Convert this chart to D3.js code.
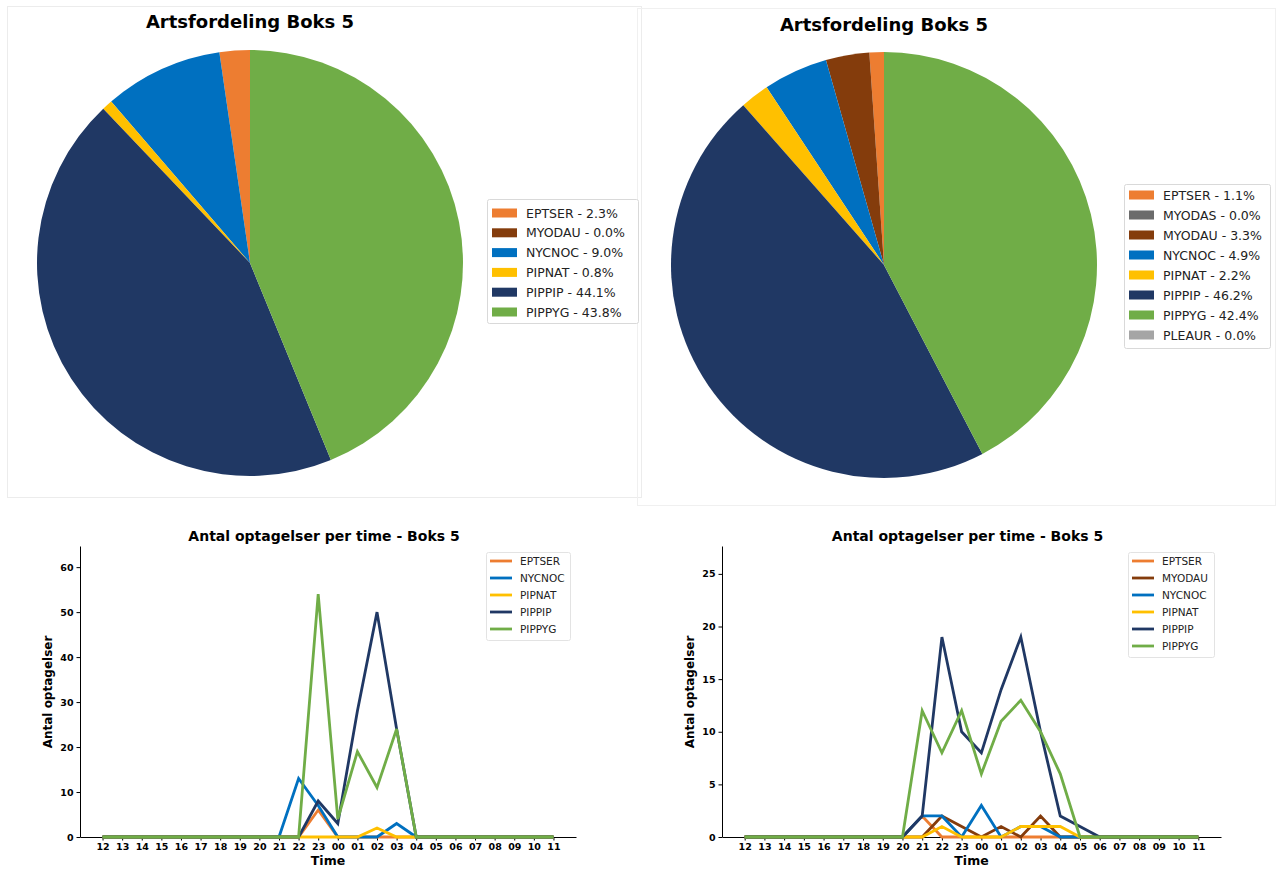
<!DOCTYPE html>
<html>
<head>
<meta charset="utf-8">
<script src="https://cdn.jsdelivr.net/npm/d3@7"></script>
<style>
  body { margin: 0; background: #fff; }
  svg { display: block; }
  text { font-family: "DejaVu Sans", sans-serif; }
</style>
</head>
<body>
<svg id="chart" width="1277" height="870"></svg>
<script>
// ---- data ----
var speciesColors = {
  EPTSER: "#ED7D31", MYODAS: "#6B6B6B", MYODAU: "#843C0C", NYCNOC: "#0070C0",
  PIPNAT: "#FFC000", PIPPIP: "#203864", PIPPYG: "#70AD47", PLEAUR: "#A5A5A5"
};

// pie charts (percent of recordings)
var pieLeftSpecies = ["EPTSER", "MYODAU", "NYCNOC", "PIPNAT", "PIPPIP", "PIPPYG"];
var pieLeftValues = [2.3, 0.0, 9.0, 0.8, 44.1, 43.8];

var pieRightSpecies = ["EPTSER", "MYODAS", "MYODAU", "NYCNOC", "PIPNAT", "PIPPIP", "PIPPYG", "PLEAUR"];
var pieRightValues = [1.1, 0.0, 3.3, 4.9, 2.2, 46.2, 42.4, 0.0];

// hourly counts
var hourLabels = ["12","13","14","15","16","17","18","19","20","21","22","23",
                  "00","01","02","03","04","05","06","07","08","09","10","11"];

var lineLeftSpecies = ["EPTSER", "NYCNOC", "PIPNAT", "PIPPIP", "PIPPYG"];
var leftEPTSER = [0,0,0,0,0,0,0,0,0,0,0,6, 0,0,0,0,0,0,0,0,0,0,0,0];
var leftNYCNOC = [0,0,0,0,0,0,0,0,0,0,13,7, 0,0,0,3,0,0,0,0,0,0,0,0];
var leftPIPNAT = [0,0,0,0,0,0,0,0,0,0,0,0, 0,0,2,0,0,0,0,0,0,0,0,0];
var leftPIPPIP = [0,0,0,0,0,0,0,0,0,0,0,8, 3,28,50,24,0,0,0,0,0,0,0,0];
var leftPIPPYG = [0,0,0,0,0,0,0,0,0,0,0,54, 4,19,11,24,0,0,0,0,0,0,0,0];
var leftYTicks = [0, 10, 20, 30, 40, 50, 60];

var lineRightSpecies = ["EPTSER", "MYODAU", "NYCNOC", "PIPNAT", "PIPPIP", "PIPPYG"];
var rightEPTSER = [0,0,0,0,0,0,0,0,0,2,0,0, 0,0,0,0,0,0,0,0,0,0,0,0];
var rightMYODAU = [0,0,0,0,0,0,0,0,0,0,2,1, 0,1,0,2,0,0,0,0,0,0,0,0];
var rightNYCNOC = [0,0,0,0,0,0,0,0,0,2,2,0, 3,0,1,1,0,0,0,0,0,0,0,0];
var rightPIPNAT = [0,0,0,0,0,0,0,0,0,0,1,0, 0,0,1,1,1,0,0,0,0,0,0,0];
var rightPIPPIP = [0,0,0,0,0,0,0,0,0,2,19,10, 8,14,19,10,2,1,0,0,0,0,0,0];
var rightPIPPYG = [0,0,0,0,0,0,0,0,0,12,8,12, 6,11,13,10,6,0,0,0,0,0,0,0];
var rightYTicks = [0, 5, 10, 15, 20, 25];

var svg = d3.select("#chart");

// faint frames around the pie screenshots
svg.append("rect").attr("x", 7.5).attr("y", 6.5).attr("width", 634).attr("height", 491)
  .attr("fill", "none").attr("stroke", "#ececec");
svg.append("rect").attr("x", 637.5).attr("y", 8.5).attr("width", 638).attr("height", 497)
  .attr("fill", "none").attr("stroke", "#f0f0f0");

// ---- pies ----
function drawPie(cx, cy, r, titleY, species, values, legend) {
  var g = svg.append("g");
  g.append("text")
    .attr("x", cx).attr("y", titleY)
    .attr("text-anchor", "middle")
    .style("font-size", "18px").style("font-weight", "bold")
    .text("Artsfordeling Boks 5");

  // matplotlib style: start at top, counter clockwise
  var pie = d3.pie().sort(null).startAngle(0).endAngle(-2 * Math.PI);
  var arc = d3.arc().innerRadius(0).outerRadius(r);
  var data = pie(values);

  g.append("g").attr("transform", "translate(" + cx + "," + cy + ")")
    .selectAll("path")
    .data(data)
    .enter()
    .append("path")
    .attr("d", arc)
    .attr("fill", function(d, i) { return speciesColors[species[i]]; });

  var lg = g.append("g").attr("transform", "translate(" + legend.x + "," + legend.y + ")");
  lg.append("rect")
    .attr("x", 0.5).attr("y", 0.5)
    .attr("width", legend.w).attr("height", legend.h)
    .attr("rx", 2)
    .attr("fill", "#fff").attr("stroke", "#d9d9d9");

  var rows = lg.selectAll("g.row")
    .data(species)
    .enter()
    .append("g")
    .attr("class", "row")
    .attr("transform", function(d, i) { return "translate(0," + (legend.first + i * legend.step) + ")"; });
  rows.append("rect")
    .attr("x", 5).attr("y", -4.5)
    .attr("width", 25).attr("height", 9)
    .attr("fill", function(d) { return speciesColors[d]; });
  rows.append("text")
    .attr("x", 39).attr("y", 0).attr("dy", "0.36em")
    .style("font-size", "12.5px").style("fill", "#222")
    .text(function(d, i) { return d + " - " + values[i].toFixed(1) + "%"; });
}

drawPie(250, 263, 213, 28, pieLeftSpecies, pieLeftValues,
  { x: 487, y: 199, w: 151, h: 124, first: 14, step: 19.8 });
drawPie(884, 265, 213, 31, pieRightSpecies, pieRightValues,
  { x: 1124, y: 184, w: 146, h: 164, first: 11, step: 20 });

// ---- hourly line charts ----
function drawLines(opts) {
  var g = svg.append("g");
  var x = d3.scaleLinear().domain([-1.15, 24.15]).range([opts.x0, opts.x1]);
  var y = d3.scaleLinear().domain([0, opts.yMax]).range([837, 546]);

  g.append("text")
    .attr("x", (opts.x0 + opts.x1) / 2 - 4).attr("y", 541)
    .attr("text-anchor", "middle")
    .style("font-size", "14px").style("font-weight", "bold")
    .text("Antal optagelser per time - Boks 5");

  var xAxis = g.append("g")
    .attr("transform", "translate(0,837)")
    .call(d3.axisBottom(x)
      .tickValues(d3.range(hourLabels.length))
      .tickFormat(function(i) { return hourLabels[i]; })
      .tickSizeInner(3.5).tickSizeOuter(0).tickPadding(3));
  var yAxis = g.append("g")
    .attr("transform", "translate(" + opts.x0 + ",0)")
    .call(d3.axisLeft(y)
      .tickValues(opts.yTicks)
      .tickSizeInner(3.5).tickSizeOuter(0).tickPadding(3));
  [xAxis, yAxis].forEach(function(a) {
    a.selectAll("text")
      .style("font-family", "'DejaVu Sans', sans-serif")
      .style("font-size", "9.5px").style("font-weight", "bold").style("fill", "#000");
    a.select(".domain").attr("stroke", "#000");
  });

  g.append("text")
    .attr("x", (opts.x0 + opts.x1) / 2).attr("y", 865)
    .attr("text-anchor", "middle")
    .style("font-size", "12.5px").style("font-weight", "bold")
    .text("Time");
  g.append("text")
    .attr("transform", "translate(" + (opts.x0 - 28) + ",692) rotate(-90)")
    .attr("text-anchor", "middle")
    .style("font-size", "12px").style("font-weight", "bold")
    .text("Antal optagelser");

  var line = d3.line()
    .x(function(d, i) { return x(i); })
    .y(function(d) { return y(d); });

  g.selectAll("path.series")
    .data(opts.series)
    .enter()
    .append("path")
    .attr("class", "series")
    .attr("d", function(s) { return line(s.values); })
    .attr("fill", "none")
    .attr("stroke", function(s) { return speciesColors[s.name]; })
    .attr("stroke-width", 2.8)
    .attr("stroke-linejoin", "miter");

  var lg = g.append("g").attr("transform", "translate(" + opts.legendX + ",552)");
  lg.append("rect")
    .attr("x", 0.5).attr("y", 0.5)
    .attr("width", opts.legendW).attr("height", 17 * opts.series.length + 3)
    .attr("rx", 2)
    .attr("fill", "#fff").attr("fill-opacity", 0.8).attr("stroke", "#e3e3e3");
  var rows = lg.selectAll("g.row")
    .data(opts.series)
    .enter()
    .append("g")
    .attr("class", "row")
    .attr("transform", function(d, i) { return "translate(0," + (9 + i * 17) + ")"; });
  rows.append("line")
    .attr("x1", 4).attr("x2", 26).attr("y1", 0).attr("y2", 0)
    .attr("stroke", function(s) { return speciesColors[s.name]; })
    .attr("stroke-width", 2.8);
  rows.append("text")
    .attr("x", 34).attr("y", 0).attr("dy", "0.36em")
    .style("font-size", "10.5px").style("fill", "#222")
    .text(function(s) { return s.name; });
}

drawLines({
  x0: 80, x1: 576, yMax: 64.7, yTicks: leftYTicks, legendX: 486, legendW: 84,
  series: [
    { name: "EPTSER", values: leftEPTSER },
    { name: "NYCNOC", values: leftNYCNOC },
    { name: "PIPNAT", values: leftPIPNAT },
    { name: "PIPPIP", values: leftPIPPIP },
    { name: "PIPPYG", values: leftPIPPYG }
  ]
});

drawLines({
  x0: 722, x1: 1221, yMax: 27.65, yTicks: rightYTicks, legendX: 1128, legendW: 86,
  series: [
    { name: "EPTSER", values: rightEPTSER },
    { name: "MYODAU", values: rightMYODAU },
    { name: "NYCNOC", values: rightNYCNOC },
    { name: "PIPNAT", values: rightPIPNAT },
    { name: "PIPPIP", values: rightPIPPIP },
    { name: "PIPPYG", values: rightPIPPYG }
  ]
});
</script>
</body>
</html>
